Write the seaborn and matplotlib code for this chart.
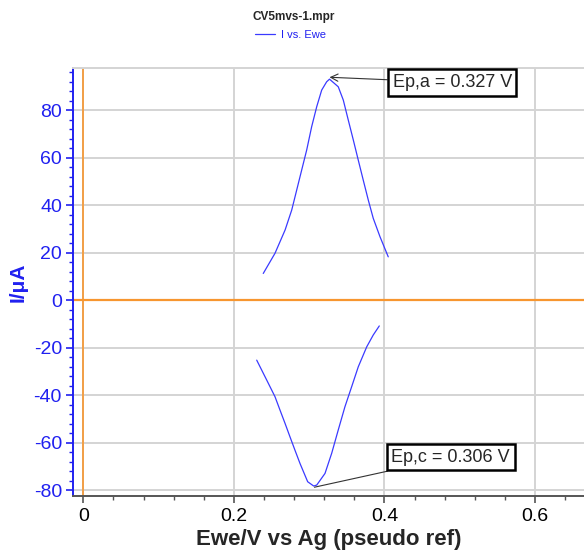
import matplotlib
matplotlib.use("Agg")
import matplotlib.pyplot as plt
from matplotlib.ticker import MultipleLocator
import seaborn as sns
import pandas as pd

# anodic (forward) branch
ewe_ox = [0.239, 0.2546, 0.268, 0.2768, 0.2834, 0.290, 0.2967, 0.3033,
          0.310, 0.3166, 0.3232, 0.327, 0.3386, 0.3453, 0.3519, 0.3586,
          0.3652, 0.3718, 0.3785, 0.3851, 0.394, 0.405]
i_ox = [11.2, 19.7, 29.5, 37.9, 46.3, 54.7, 63.2, 73.0,
        81.4, 88.4, 91.9, 93.0, 89.8, 84.2, 75.8, 67.4,
        58.9, 50.5, 42.1, 34.4, 26.7, 18.2]

# cathodic (reverse) branch
ewe_red = [0.3931, 0.3851, 0.3764, 0.3652, 0.3564, 0.3475, 0.3386, 0.3299,
           0.321, 0.310, 0.306, 0.298, 0.2878, 0.2811, 0.2745, 0.2679,
           0.2612, 0.2546, 0.2436, 0.2303]
i_red = [-10.9, -14.7, -19.7, -28.1, -36.5, -44.9, -54.7, -64.5,
         -73.0, -77.9, -78.3, -76.5, -68.8, -63.2, -57.6, -51.9,
         -46.3, -40.7, -33.7, -25.3]

peak_ox = (0.327, 93.8)
peak_red = (0.307, -78.8)
label_ox = "Ep,a = 0.327 V"
label_red = "Ep,c = 0.306 V"

df = pd.DataFrame({
    "Ewe": ewe_ox + ewe_red,
    "I": i_ox + i_red,
    "branch": ["ox"] * len(ewe_ox) + ["red"] * len(ewe_red),
})

BLUE = "#2020f0"
ORANGE = "#f7962f"

sns.set_style("white")
plt.rcParams["font.family"] = ["Liberation Sans", "DejaVu Sans"]
plt.rcParams["axes.unicode_minus"] = False

fig = plt.figure(figsize=(5.84, 5.50), dpi=100)
ax = fig.add_axes([73 / 584, 54 / 550, 511 / 584, 428 / 550])

ax.axhline(0, color=ORANGE, lw=1.6, zorder=2)
ax.axvline(0, color=ORANGE, lw=1.2, zorder=2)

sns.lineplot(data=df, x="Ewe", y="I", units="branch", estimator=None,
             sort=False, color="#3a3aff", lw=0.9, ax=ax, zorder=3,
             label="I vs. Ewe")

ax.set_xlim(-0.0137, 0.665)
ax.set_ylim(-82.5, 97.7)
ax.xaxis.set_major_locator(MultipleLocator(0.2))
ax.xaxis.set_minor_locator(MultipleLocator(0.04))
ax.yaxis.set_major_locator(MultipleLocator(20))
ax.yaxis.set_minor_locator(MultipleLocator(4))
ax.xaxis.set_major_formatter(plt.FuncFormatter(lambda v, p: "0" if abs(v) < 1e-9 else f"{v:g}"))

ax.grid(True, which="major", color="#d4d4d4", lw=1.4, zorder=0)
ax.set_axisbelow(True)

ax.spines["right"].set_visible(False)
ax.spines["top"].set_color("#d4d4d4")
ax.spines["top"].set_linewidth(1.4)
ax.spines["left"].set_color(BLUE)
ax.spines["left"].set_linewidth(1.4)
ax.spines["bottom"].set_color("#555555")
ax.spines["bottom"].set_linewidth(1.4)

ax.tick_params(axis="y", which="both", direction="out", colors=BLUE,
               labelsize=14, left=True, pad=3)
ax.tick_params(axis="y", which="major", length=5, width=1.2)
ax.tick_params(axis="y", which="minor", length=3, width=1.0)
ax.tick_params(axis="x", which="both", direction="out", colors="#555555",
               labelcolor="black", labelsize=14, bottom=True)
ax.tick_params(axis="x", which="major", length=5, width=1.2)
ax.tick_params(axis="x", which="minor", length=3, width=1.0)

ax.set_xlabel("Ewe/V vs Ag (pseudo ref)", fontsize=16, fontweight="bold",
              labelpad=3)
ax.set_ylabel("I/\u03bcA", fontsize=15, fontweight="bold", color=BLUE)
ax.yaxis.set_label_coords(-0.088, 0.5)

box = dict(boxstyle="square,pad=0.25", fc="white", ec="black", lw=1.8)
ax.annotate(label_ox, xy=peak_ox, xytext=(0.490, 91.6),
            fontsize=13, ha="center", va="center", bbox=box,
            arrowprops=dict(arrowstyle="->", color="#333333", lw=0.8,
                            shrinkA=0, shrinkB=0), zorder=5)
ax.annotate(label_red, xy=peak_red, xytext=(0.488, -66.2),
            fontsize=13, ha="center", va="center", bbox=box,
            arrowprops=dict(arrowstyle="-", color="#333333", lw=0.8,
                            shrinkA=0, shrinkB=0), zorder=5)

fig.text(0.503, 1 - 17 / 550, "CV5mvs-1.mpr", fontsize=8.5,
         fontweight="bold", ha="center", va="center")
handles, labels = ax.get_legend_handles_labels()
ax.get_legend().remove()
fig.legend(handles[:1], labels[:1], loc="center",
           bbox_to_anchor=(0.497, 1 - 35 / 550), frameon=False,
           fontsize=8, labelcolor=BLUE, handlelength=1.8, handletextpad=0.5)

fig.savefig("out.png", dpi=100)
